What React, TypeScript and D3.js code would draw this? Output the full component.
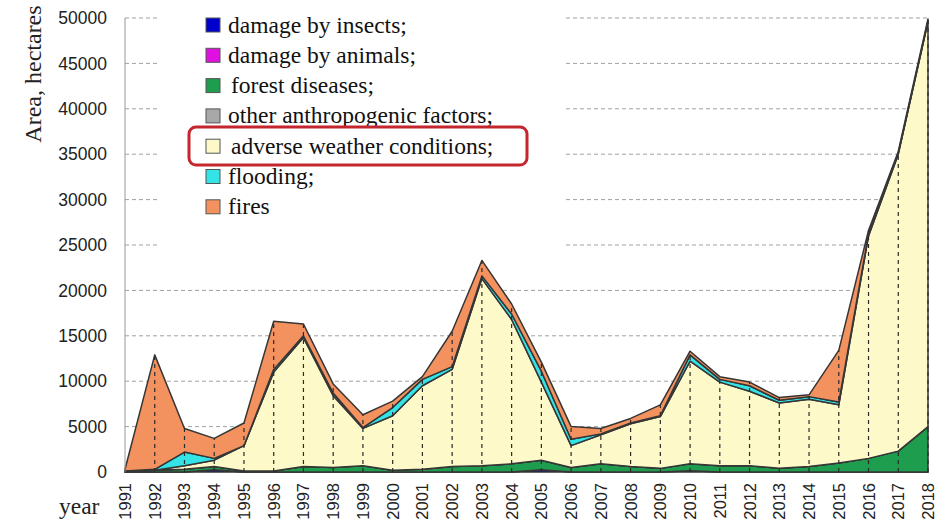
import React from 'react';
import * as d3 from 'd3';

const years = d3.range(1991, 2019).map(String);

// hectares
const insects = [0, 0, 0, 250, 0, 0, 0, 0, 0, 0, 0, 0, 0, 0, 250, 0, 0, 0, 0, 150, 0, 0, 0, 0, 0, 0, 0, 0];
const animals = [0, 0, 0, 0, 0, 0, 0, 0, 0, 0, 0, 0, 0, 0, 0, 0, 0, 0, 0, 0, 0, 0, 0, 0, 0, 0, 0, 0];
const diseases = [100, 200, 300, 350, 100, 100, 600, 500, 700, 200, 300, 600, 700, 900, 1050, 500, 900, 600, 400, 750, 700, 700, 400, 600, 1000, 1500, 2300, 5000];
const otherFactors = [0, 0, 0, 0, 0, 0, 0, 0, 0, 0, 0, 0, 0, 0, 0, 0, 0, 0, 0, 0, 0, 0, 0, 0, 0, 0, 0, 0];
const weather = [0, 0, 400, 700, 2800, 10900, 14200, 7900, 4100, 6000, 9200, 10700, 20600, 15900, 8600, 2400, 3200, 4700, 5700, 11300, 9200, 8200, 7200, 7400, 6400, 24500, 32700, 44600];
const flooding = [0, 100, 1500, 200, 0, 300, 200, 300, 100, 900, 700, 300, 300, 600, 1200, 700, 100, 100, 100, 700, 300, 600, 300, 300, 300, 200, 100, 100];
const fires = [200, 12600, 2600, 2200, 2500, 5300, 1300, 1000, 1400, 700, 300, 3900, 1700, 1100, 1000, 1400, 600, 500, 1200, 400, 300, 400, 300, 200, 5700, 400, 200, 200];

const yTicks = [0, 5000, 10000, 15000, 20000, 25000, 30000, 35000, 40000, 45000, 50000];

const seriesKeys = ['insects', 'animals', 'diseases', 'other', 'weather', 'flooding', 'fires'];
const legendLabels = [
  'damage by insects;',
  'damage by animals;',
  'forest diseases;',
  'other anthropogenic factors;',
  'adverse weather conditions;',
  'flooding;',
  'fires',
];
const colors = ['#0000cc', '#e010e0', '#1f9d4f', '#a8a8a8', '#fdf9c9', '#33e3e6', '#f4925f'];

const W = 945;
const H = 522;
const left = 125;
const right = 928;
const top = 18;
const bottom = 472;

export default function App() {
  const rows = years.map((y, i) => ({
    year: y,
    insects: insects[i],
    animals: animals[i],
    diseases: diseases[i],
    other: otherFactors[i],
    weather: weather[i],
    flooding: flooding[i],
    fires: fires[i],
  }));

  const layers = d3.stack().keys(seriesKeys)(rows as any);

  const x = d3.scalePoint().domain(years).range([left, right]);
  const y = d3.scaleLinear().domain([0, 50000]).range([bottom, top]);

  const area = d3
    .area<any>()
    .x((d) => x(d.data.year) as number)
    .y0((d) => y(d[0]))
    .y1((d) => y(d[1]));

  const totals = layers[layers.length - 1];
  const sans = 'Liberation Sans, Arial, sans-serif';
  const serif = 'Liberation Serif, Times New Roman, serif';

  return (
    <svg
      width={W}
      height={H}
      style={{ position: 'absolute', left: 0, top: 0, background: '#fff' }}
    >
      {/* grid */}
      {yTicks.slice(1).map((t) => (
        <line
          key={t}
          x1={left}
          x2={right}
          y1={y(t)}
          y2={y(t)}
          stroke="#a0a0a0"
          strokeWidth={1}
          strokeDasharray="4,3"
        />
      ))}

      {/* stacked areas */}
      {layers.map((layer, i) => (
        <path
          key={seriesKeys[i]}
          d={area(layer) as string}
          fill={colors[i]}
          stroke="#363636"
          strokeWidth={1.5}
          strokeLinejoin="round"
        />
      ))}

      {/* vertical year lines */}
      {totals.map((d: any) => (
        <line
          key={d.data.year}
          x1={x(d.data.year)}
          x2={x(d.data.year)}
          y1={bottom}
          y2={y(d[1])}
          stroke="#2a2a2a"
          strokeWidth={1.2}
          strokeDasharray="4,4"
        />
      ))}

      {/* y axis line */}
      <line x1={left} x2={left} y1={top} y2={bottom} stroke="#999" strokeWidth={1} />

      {/* legend backdrop */}
      <rect x={160} y={6} width={403} height={252} fill="#fff" />

      {yTicks.map((t) => (
        <text
          key={t}
          x={107}
          y={y(t)}
          dy="0.35em"
          textAnchor="end"
          fontFamily={sans}
          fontSize={17.5}
          fill="#222"
        >
          {t}
        </text>
      ))}

      {years.map((yr) => (
        <text
          key={yr}
          transform={`translate(${(x(yr) as number) + 6},483) rotate(-90)`}
          textAnchor="end"
          fontFamily={sans}
          fontSize={16.5}
          fill="#222"
        >
          {yr}
        </text>
      ))}

      <text
        transform="translate(41,74) rotate(-90)"
        textAnchor="middle"
        fontFamily={serif}
        fontSize={24}
        fill="#222"
      >
        Area, hectares
      </text>
      <text x={59} y={514} fontFamily={serif} fontSize={23.5} fill="#222">
        year
      </text>

      {/* legend */}
      {legendLabels.map((lab, i) => {
        const cy = 25 + i * 30.3;
        return (
          <g key={lab}>
            <rect
              x={206}
              y={cy - 7}
              width={14}
              height={14}
              fill={colors[i]}
              stroke="#555"
              strokeWidth={1}
            />
            <text
              x={i === 2 || i === 4 ? 231 : 228}
              y={cy}
              dy="0.32em"
              fontFamily={serif}
              fontSize={23.5}
              fill="#111"
            >
              {lab}
            </text>
          </g>
        );
      })}
      <rect
        x={189}
        y={127}
        width={338}
        height={38}
        rx={7}
        fill="none"
        stroke="#c4262e"
        strokeWidth={3}
      />
    </svg>
  );
}
